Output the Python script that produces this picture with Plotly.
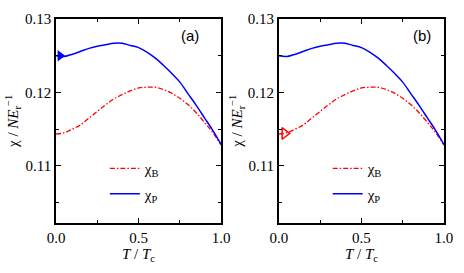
import plotly.graph_objects as go
from plotly.subplots import make_subplots

# ---- data ----
t = [0.0, 0.05, 0.1, 0.15, 0.2, 0.25, 0.3, 0.35, 0.4, 0.45, 0.5,
     0.55, 0.6, 0.65, 0.7, 0.75, 0.8, 0.85, 0.9, 0.95, 1.0]
chi_B = [0.1143, 0.1145, 0.1150, 0.1156, 0.1165, 0.1174, 0.1183, 0.1191, 0.1197, 0.1202, 0.1206,
         0.1207, 0.1207, 0.1204, 0.1199, 0.1192, 0.1183, 0.1172, 0.1159, 0.1145, 0.1128]
chi_P = [0.1250, 0.1249, 0.1252, 0.1256, 0.1260, 0.1263, 0.1265, 0.1267, 0.1267, 0.1264, 0.1261,
         0.1255, 0.1247, 0.1237, 0.1226, 0.1214, 0.1198, 0.1182, 0.1165, 0.1148, 0.1129]
marker_a = ([0.025], [0.1250])   # filled blue triangle, panel (a)
marker_b = ([0.035], [0.1144])   # open red triangle, panel (b)

x_tickvals = [0.0, 0.5, 1.0]
x_ticktext = ["0.0", "0.5", "1.0"]
y_tickvals = [0.11, 0.12, 0.13]
y_ticktext = ["0.11", "0.12", "0.13"]
panel_labels = ["(a)", "(b)"]
name_B = "χ<sub>B</sub>"
name_P = "χ<sub>P</sub>"

RED = "#ff0000"
BLUE = "#0000ff"
SERIF = "Times New Roman"
SANS = "Liberation Sans"

fig = make_subplots(rows=1, cols=2)

for col, leg in [(1, "legend"), (2, "legend2")]:
    fig.add_trace(go.Scatter(x=t, y=chi_B, mode="lines", name=name_B, legend=leg, legendgroup="B",
                             line=dict(color=RED, width=1.3, dash="5px,2px,1.5px,2px", shape="spline")),
                  row=1, col=col)
    fig.add_trace(go.Scatter(x=t, y=chi_P, mode="lines", name=name_P, legend=leg, legendgroup="P",
                             line=dict(color=BLUE, width=1.5, shape="spline")),
                  row=1, col=col)

fig.add_trace(go.Scatter(x=marker_a[0], y=marker_a[1], mode="markers", showlegend=False,
                         marker=dict(symbol="triangle-right", size=10, color=BLUE)), row=1, col=1)
fig.add_trace(go.Scatter(x=marker_b[0], y=marker_b[1], mode="markers", showlegend=False,
                         marker=dict(symbol="triangle-right-open", size=10, color=RED,
                                     line=dict(width=1.5, color=RED))), row=1, col=2)

axis_common = dict(showline=True, linecolor="black", linewidth=1.5, mirror="ticks",
                   ticks="inside", ticklen=5, tickwidth=1.2, tickcolor="black",
                   showgrid=False, zeroline=False,
                   tickfont=dict(family=SERIF, size=15, color="black"))

for i, dom in [(1, [0.0, 0.4257]), (2, [0.5743, 1.0])]:
    fig.update_xaxes(axis_common, domain=dom, range=[0, 1], tickvals=x_tickvals, ticktext=x_ticktext,
                     minor=dict(tickvals=[0.25, 0.75], ticks="inside", ticklen=3, tickcolor="black"),
                     row=1, col=i)
    fig.update_yaxes(axis_common, range=[0.1022, 0.13], tickvals=y_tickvals, ticktext=y_ticktext,
                     minor=dict(tickvals=[0.105, 0.115, 0.125], ticks="inside", ticklen=3, tickcolor="black"),
                     row=1, col=i)

W, H = 464, 273
L, R, T, B = 56, 11, 16, 50
pw, ph = W - L - R, H - T - B

def px(x):
    return (x - L) / pw

def py(y):
    return (H - B - y) / ph

annotations = []
for xc_ytitle, xc_xtitle in [(12, 140.5), (241, 368.5)]:
    annotations.append(dict(xref="paper", yref="paper", x=px(xc_ytitle), y=0.5,
                            text="χ / <i>NE</i><sub>r</sub><sup>−1</sup>", textangle=-90,
                            showarrow=False, xanchor="center", yanchor="middle",
                            font=dict(family=SERIF, size=15, color="black")))
    annotations.append(dict(xref="paper", yref="paper", x=px(xc_xtitle), y=py(255),
                            text="<i>T</i> / <i>T</i><sub>c</sub>",
                            showarrow=False, xanchor="center", yanchor="middle",
                            font=dict(family=SERIF, size=15, color="black")))
for lab, xc in zip(panel_labels, [193, 430]):
    annotations.append(dict(xref="paper", yref="paper", x=px(xc), y=py(33), text=lab,
                            showarrow=False, xanchor="center", yanchor="middle",
                            font=dict(family=SANS, size=15, color="black")))

leg_common = dict(bgcolor="rgba(0,0,0,0)", borderwidth=0, xanchor="left", yanchor="top",
                  font=dict(family=SERIF, size=15, color="black"), tracegroupgap=3,
                  traceorder="grouped")

fig.update_layout(
    width=W, height=H, margin=dict(l=L, r=R, t=T, b=B),
    paper_bgcolor="white", plot_bgcolor="white",
    annotations=annotations,
    legend=dict(leg_common, x=px(106), y=py(151)),
    legend2=dict(leg_common, x=px(334), y=py(151)),
)

fig.write_html("out.html", config={"displayModeBar": False},
               post_script="document.body.style.margin='0';document.body.style.overflow='hidden';")
